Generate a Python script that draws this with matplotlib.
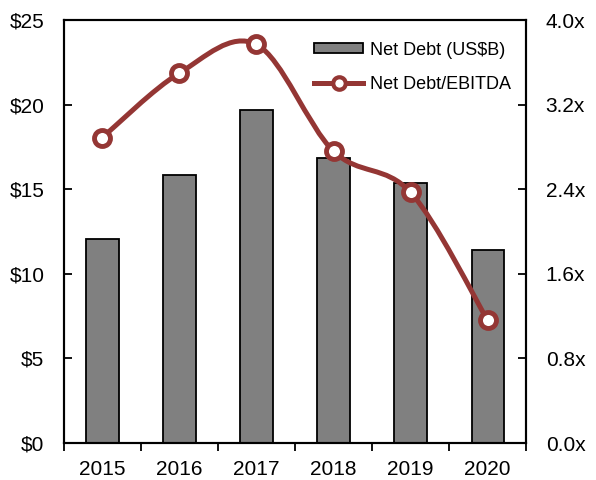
import numpy as np
import matplotlib
matplotlib.use("Agg")
import matplotlib.pyplot as plt
from matplotlib.path import Path
from matplotlib.patches import PathPatch
from matplotlib.lines import Line2D
from matplotlib.ticker import FuncFormatter, MultipleLocator, FixedLocator

plt.rcParams['font.family'] = ['Liberation Sans', 'DejaVu Sans']

years = ['2015', '2016', '2017', '2018', '2019', '2020']
net_debt = [12.07, 15.86, 19.66, 16.88, 15.35, 11.41]       # US$B
debt_ebitda = [2.89, 3.50, 3.77, 2.76, 2.37, 1.16]          # x

bar_color = '#808080'
line_color = '#943634'


def smooth_path(xs, ys):
    # Excel-style smoothed line: Catmull-Rom segments as cubic Bezier curves
    pts = np.column_stack([xs, ys]).astype(float)
    ext = np.vstack([pts[0], pts, pts[-1]])
    verts = [tuple(pts[0])]
    codes = [Path.MOVETO]
    for i in range(len(pts) - 1):
        p0, p1, p2, p3 = ext[i], ext[i + 1], ext[i + 2], ext[i + 3]
        c1 = p1 + (p2 - p0) / 6
        c2 = p2 - (p3 - p1) / 6
        verts += [tuple(c1), tuple(c2), tuple(p2)]
        codes += [Path.CURVE4] * 3
    return Path(verts, codes)


fig = plt.figure(figsize=(5.96, 4.8), dpi=100)
ax = fig.add_axes([0.107, 0.077, 0.776, 0.881])
x = np.arange(len(years))

ax.bar(x, net_debt, width=0.42, color=bar_color, edgecolor='black', linewidth=1.3)
ax.set_xlim(-0.5, len(years) - 0.5)
ax.set_ylim(0, 25)
ax.yaxis.set_major_locator(MultipleLocator(5))
ax.yaxis.set_major_formatter(FuncFormatter(lambda v, p: f'${v:.0f}'))
ax.tick_params(axis='y', direction='in', length=6, width=1.3, labelsize=15, pad=14)

# category labels centred, tick marks on category boundaries
ax.set_xticks(x)
ax.set_xticklabels(years)
ax.tick_params(axis='x', which='major', length=0, labelsize=15, pad=12)
ax.xaxis.set_minor_locator(FixedLocator(np.arange(-0.5, len(years), 1.0)))
ax.tick_params(axis='x', which='minor', direction='out', length=6, width=1.3)

for s in ax.spines.values():
    s.set_linewidth(1.5)

ax2 = ax.twinx()
ax2.set_ylim(0, 4.0)
ax2.yaxis.set_major_locator(MultipleLocator(0.8))
ax2.yaxis.set_major_formatter(FuncFormatter(lambda v, p: f'{v:.1f}x'))
ax2.tick_params(axis='y', direction='in', length=6, width=1.3, labelsize=15, pad=14)
for s in ax2.spines.values():
    s.set_linewidth(1.5)

ax2.add_patch(PathPatch(smooth_path(x, debt_ebitda), fill=False,
                        edgecolor=line_color, linewidth=3.6, capstyle='round'))
ax2.plot(x, debt_ebitda, linestyle='none', marker='o', markersize=11.5,
         markerfacecolor='white', markeredgecolor=line_color, markeredgewidth=3.5)

bar_handle = plt.Rectangle((0, 0), 1, 1, facecolor=bar_color, edgecolor='black', linewidth=1.3)
line_handle = Line2D([], [], color=line_color, linewidth=3.6, marker='o', markersize=9,
                     markerfacecolor='white', markeredgecolor=line_color, markeredgewidth=3)
ax2.legend([bar_handle, line_handle], ['Net Debt (US$B)', 'Net Debt/EBITDA'],
           loc='upper right', bbox_to_anchor=(0.99, 0.975), frameon=False, fontsize=13,
           handlelength=2.75, handleheight=0.5, handletextpad=0.35, labelspacing=0.95,
           borderaxespad=0.2)

fig.savefig('out.png', dpi=100)
